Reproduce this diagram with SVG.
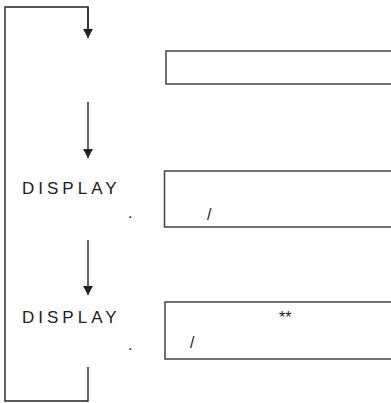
<svg xmlns="http://www.w3.org/2000/svg" width="391" height="403" viewBox="0 0 391 403">
<defs>
<marker id="ah" markerWidth="12" markerHeight="12" refX="10" refY="6" orient="auto" markerUnits="userSpaceOnUse" viewBox="0 0 12 12">
<path d="M1,1 L10,6 L1,11 Z" fill="#222"/>
</marker>
</defs>
<style>
.ln{stroke:#222;stroke-width:1.4;fill:none}
.box{fill:#fff;stroke:#444;stroke-width:1.5}
.t{font-family:"Liberation Sans",Arial,sans-serif;fill:#222}
.lbl{font-size:17px;letter-spacing:4px}
.s{font-size:16px}
</style>
<g id="connectors">
<polyline class="ln" points="88,30 88,7 5,7 5,401 88,401 88,367"/>
<line class="ln" x1="88" y1="7" x2="88" y2="38" marker-end="url(#ah)"/>
<line class="ln" x1="88" y1="102" x2="88" y2="158" marker-end="url(#ah)"/>
<line class="ln" x1="88" y1="240" x2="88" y2="295" marker-end="url(#ah)"/>
</g>
<g id="box1">
<rect class="box" x="166" y="51" width="230" height="33"/>
</g>
<g id="label1">
<text class="t lbl" x="22" y="194">DISPLAY</text>
<text class="t s" x="128" y="218">.</text>
</g>
<g id="box2">
<rect class="box" x="164.5" y="171" width="230" height="56"/>
<text class="t s" x="207" y="220">/</text>
</g>
<g id="label2">
<text class="t lbl" x="22" y="323">DISPLAY</text>
<text class="t s" x="128" y="350">.</text>
</g>
<g id="box3">
<rect class="box" x="165" y="302" width="230" height="57"/>
<text class="t s" x="279" y="323">**</text>
<text class="t s" x="190" y="348">/</text>
</g>
</svg>
